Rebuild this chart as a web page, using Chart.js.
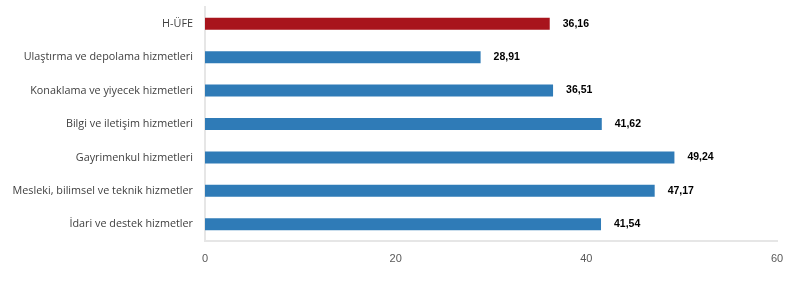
<!DOCTYPE html>
<html>
<head>
<meta charset="utf-8">
<script src="https://cdn.jsdelivr.net/npm/chart.js@4"></script>
<style>
  html, body { margin: 0; padding: 0; background: #fff; }
  #wrap { width: 796px; height: 287px; }
</style>
</head>
<body>
<div id="wrap"><canvas id="chart"></canvas></div>
<script>
// Data
const categories = [
    'H-ÜFE',
    'Ulaştırma ve depolama hizmetleri',
    'Konaklama ve yiyecek hizmetleri',
    'Bilgi ve iletişim hizmetleri',
    'Gayrimenkul hizmetleri',
    'Mesleki, bilimsel ve teknik hizmetler',
    'İdari ve destek hizmetler'
];
const values = [36.16, 28.91, 36.51, 41.62, 49.24, 47.17, 41.54];
const xTicks = [0, 20, 40, 60];

const RED = '#a8141c';
const BLUE = '#2f7bb7';
const barColors = categories.map((c, i) => i === 0 ? RED : BLUE);

// Value labels right of each bar
const valueLabels = {
    id: 'valueLabels',
    afterDatasetsDraw(chart) {
        const ctx = chart.ctx;
        const meta = chart.getDatasetMeta(0);
        ctx.save();
        ctx.font = 'bold 10.5px "Liberation Sans", Arial, sans-serif';
        ctx.fillStyle = '#000';
        ctx.textAlign = 'left';
        ctx.textBaseline = 'middle';
        meta.data.forEach((bar, i) => {
            ctx.fillText(values[i].toFixed(2).replace('.', ','), bar.x + 13, bar.y);
        });
        ctx.restore();
    }
};

new Chart(document.getElementById('chart'), {
    type: 'bar',
    data: {
        labels: categories,
        datasets: [{
            data: values,
            backgroundColor: barColors,
            borderWidth: 0,
            barPercentage: 0.36,
            categoryPercentage: 1
        }]
    },
    options: {
        indexAxis: 'y',
        responsive: true,
        maintainAspectRatio: false,
        animation: false,
        layout: { padding: { top: 7, right: 19, left: 0, bottom: 0 } },
        plugins: {
            legend: { display: false },
            tooltip: { enabled: false }
        },
        scales: {
            x: {
                min: 0,
                max: 60,
                afterBuildTicks: s => { s.ticks = xTicks.map(v => ({ value: v })); },
                afterFit: s => { s.height = 46; },
                grid: { display: false, drawTicks: false },
                border: { display: true, color: '#e6e6e6', width: 2 },
                ticks: {
                    padding: 11,
                    color: '#595959',
                    font: { family: '"Liberation Sans", Arial, sans-serif', size: 11 }
                }
            },
            y: {
                afterFit: s => { s.width = 205; s.paddingTop = 0; s.paddingBottom = 0; },
                grid: { display: false, drawTicks: false },
                border: { display: true, color: '#e6e6e6', width: 2 },
                ticks: {
                    padding: 12,
                    color: '#404040',
                    font: { family: '"Open Sans", sans-serif', size: 10.8 }
                }
            }
        }
    },
    plugins: [valueLabels]
});
</script>
</body>
</html>
